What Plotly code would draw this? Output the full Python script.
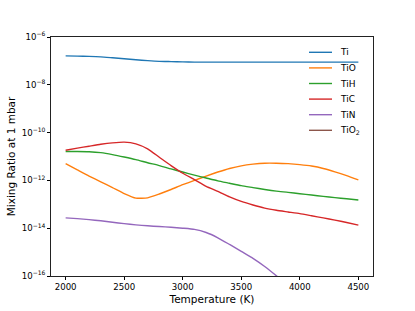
import plotly.graph_objects as go

temperature = [2000, 2100, 2200, 2300, 2400, 2500, 2600, 2700, 2800, 2900, 3000,
               3100, 3200, 3300, 3400, 3500, 3600, 3700, 3800, 3900, 4000,
               4100, 4200, 4300, 4400, 4500]

# log10 of mixing ratio at 1 mbar
log_Ti = [-6.79, -6.80, -6.81, -6.83, -6.87, -6.91, -6.95, -6.99, -7.02, -7.03, -7.04,
          -7.05, -7.05, -7.05, -7.05, -7.05, -7.05, -7.05, -7.05, -7.05, -7.05,
          -7.05, -7.05, -7.05, -7.05, -7.05]
log_TiO = [-11.30, -11.56, -11.82, -12.06, -12.30, -12.55, -12.74, -12.73, -12.57, -12.38, -12.18,
           -12.00, -11.82, -11.65, -11.50, -11.39, -11.32, -11.28, -11.28, -11.30, -11.34,
           -11.40, -11.50, -11.64, -11.80, -11.98]
log_TiH = [-10.79, -10.79, -10.80, -10.84, -10.92, -11.02, -11.13, -11.26, -11.38, -11.52, -11.65,
           -11.78, -11.90, -12.02, -12.12, -12.22, -12.30, -12.38, -12.45, -12.50, -12.56,
           -12.61, -12.67, -12.72, -12.77, -12.82]
log_TiC = [-10.74, -10.65, -10.57, -10.49, -10.43, -10.40, -10.47, -10.68, -11.03, -11.38, -11.70,
           -11.97, -12.25, -12.46, -12.69, -12.88, -13.03, -13.16, -13.25, -13.32, -13.39,
           -13.48, -13.57, -13.66, -13.76, -13.87]
log_TiN = [-13.57, -13.60, -13.64, -13.69, -13.75, -13.81, -13.86, -13.90, -13.93, -13.96, -14.00,
           -14.05, -14.18, -14.40, -14.68, -14.97, -15.26, -15.60, -15.99, -16.40, -16.80,
           -17.20, -17.60, -18.00, -18.40, -18.80]
log_TiO2 = [-19.0, -19.0, -19.0, -19.0, -19.0, -19.0, -19.0, -19.0, -19.0, -19.0, -19.0,
            -19.0, -19.0, -19.0, -19.0, -19.0, -19.0, -19.0, -19.0, -19.0, -19.0,
            -19.0, -19.0, -19.0, -19.0, -19.0]

species = ["Ti", "TiO", "TiH", "TiC", "TiN", "TiO<sub>2</sub>"]
series = [log_Ti, log_TiO, log_TiH, log_TiC, log_TiN, log_TiO2]
colors = ["#1f77b4", "#ff7f0e", "#2ca02c", "#d62728", "#9467bd", "#8c564b"]

x_ticks = [2000, 2500, 3000, 3500, 4000, 4500]
y_tick_exps = [-6, -8, -10, -12, -14, -16]

font = "DejaVu Sans"
W, H = 415, 311
L, R, T, B = 51, 42, 37, 35
pw, ph = W - L - R, H - T - B

fig = go.Figure()
for name, vals, col in zip(species, series, colors):
    fig.add_trace(go.Scatter(
        x=temperature, y=[10 ** v for v in vals], name=name, mode="lines",
        line=dict(color=col, width=1.4, shape="spline", smoothing=0.5),
        showlegend=False,
    ))

# hand-built legend (matplotlib-like compact spacing, no frame)
leg_x0, leg_x1, leg_tx = 309, 332, 338
leg_y0, leg_dy = 52.3, 15.6
for i, (name, col) in enumerate(zip(species, colors)):
    py = leg_y0 + i * leg_dy
    yp = (H - B - py) / ph
    fig.add_shape(type="line", xref="paper", yref="paper",
                  x0=(leg_x0 - L) / pw, x1=(leg_x1 - L) / pw, y0=yp, y1=yp,
                  line=dict(color=col, width=1.4))
    fig.add_annotation(xref="paper", yref="paper", x=(leg_tx - L) / pw, y=yp,
                       xanchor="left", yanchor="middle", text=name, showarrow=False,
                       font=dict(family=font, size=9, color="black"))

fig.update_layout(
    width=W, height=H,
    margin=dict(l=L, r=R, t=T, b=B),
    paper_bgcolor="white", plot_bgcolor="white",
    font=dict(family=font, size=9, color="black"),
    showlegend=False,
)
fig.update_xaxes(
    range=[1875, 4625], tickvals=x_ticks, ticktext=[str(t) for t in x_ticks],
    ticks="outside", ticklen=3, tickwidth=0.8, tickcolor="black",
    showline=True, linecolor="#222", linewidth=0.8, mirror=True,
    showgrid=False, zeroline=False, automargin=False,
    tickfont=dict(family=font, size=8.6),
    title=dict(text="Temperature (K)", font=dict(family=font, size=10.5), standoff=4),
)
fig.update_yaxes(
    type="log", range=[-16, -6],
    tickvals=[10 ** e for e in y_tick_exps],
    ticktext=["10<sup>\u2212%d</sup>" % (-e) for e in y_tick_exps],
    ticks="outside", ticklen=3, tickwidth=0.8, tickcolor="black",
    showline=True, linecolor="#222", linewidth=0.8, mirror=True,
    showgrid=False, zeroline=False, automargin=False,
    tickfont=dict(family=font, size=8.6),
    title=dict(text="Mixing Ratio at 1 mbar", font=dict(family=font, size=10.5), standoff=4),
)

fig.write_html("out.html", config={"displayModeBar": False},
               post_script="document.body.style.margin='0';")
